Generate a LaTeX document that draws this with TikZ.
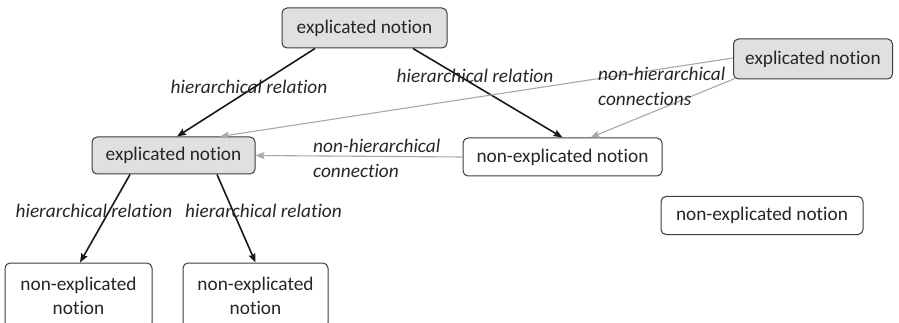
\documentclass[tikz,border=0pt]{standalone}
\usepackage{fontspec}
\setmainfont{Carlito}[RawFeature={-liga}]
\usetikzlibrary{arrows.meta}
\definecolor{boxline}{HTML}{3C3C3C}
\definecolor{boxfill}{HTML}{E0E0E0}
\definecolor{softarrow}{HTML}{A8A8A8}
\tikzset{
  notion/.style={draw=boxline, line width=1pt, rounded corners=5pt, inner sep=0pt,
    font=\fontsize{19.3}{24}\selectfont, align=center, text=black!85},
  explicated/.style={notion, fill=boxfill},
  plain/.style={notion, fill=white},
  hier/.style={line width=1.6pt, draw=black!90, -{Stealth[length=9pt,width=7pt,inset=1.5pt]}},
  nonhier/.style={line width=1.1pt, draw=softarrow, -{Stealth[length=9pt,width=7pt,inset=1.5pt]}},
  lbl/.style={font=\fontsize{19.3}{25}\selectfont\itshape, text=black!85, inner sep=0pt}
}
\begin{document}
\begin{tikzpicture}[x=1pt,y=-1pt]
\useasboundingbox (0,0) rectangle (899,323);
\clip (0,0) rectangle (899,323);
% boxes
\node[explicated, minimum width=165pt, minimum height=40pt] (top) at (364.5,28) {explicated notion};
\node[explicated, minimum width=163pt, minimum height=37pt] (left) at (173.5,155.5) {explicated notion};
\node[explicated, minimum width=159pt, minimum height=40pt] (rexp) at (813,59) {explicated notion};
\node[plain, minimum width=199pt, minimum height=38pt] (mid) at (562.5,157) {non-explicated notion};
\node[plain, minimum width=202pt, minimum height=38pt] (far) at (762,215.5) {non-explicated notion};
\node[plain, minimum width=147pt, minimum height=65pt] (bl) at (78.5,295.5) {non-explicated\\notion};
\node[plain, minimum width=145pt, minimum height=65pt] (bm) at (255.5,295.5) {non-explicated\\notion};
% hierarchical relations
\draw[hier] ([xshift=-49.5pt]top.south) -- ([xshift=3.5pt]left.north);
\draw[hier] ([xshift=48.5pt]top.south) -- (mid.north);
\draw[hier] ([xshift=-43.5pt]left.south) -- ([xshift=1.5pt]bl.north);
\draw[hier] ([xshift=43.5pt]left.south) -- (bm.north);
% non-hierarchical connections
\draw[nonhier] ([yshift=1pt]rexp.west) -- ([xshift=46.5pt]left.north);
\draw[nonhier] ([xshift=2pt,yshift=1pt]rexp.south west) -- ([xshift=28pt]mid.north);
\draw[nonhier] (mid.west) -- (left.east);
% labels
\node[lbl] (l1) at (249,87) {hierarchical relation};
\node[lbl] (l2) at (475,76) {hierarchical relation};
\node[lbl] (l3) at (94,211) {hierarchical relation};
\node[lbl] (l4) at (263.5,211) {hierarchical relation};
\node[lbl, anchor=west, align=left] (l5) at (598,86.5) {non-hierarchical\\connections};
\node[lbl, anchor=west, align=left] (l6) at (313,158) {non-hierarchical\\connection};
\end{tikzpicture}
\end{document}
